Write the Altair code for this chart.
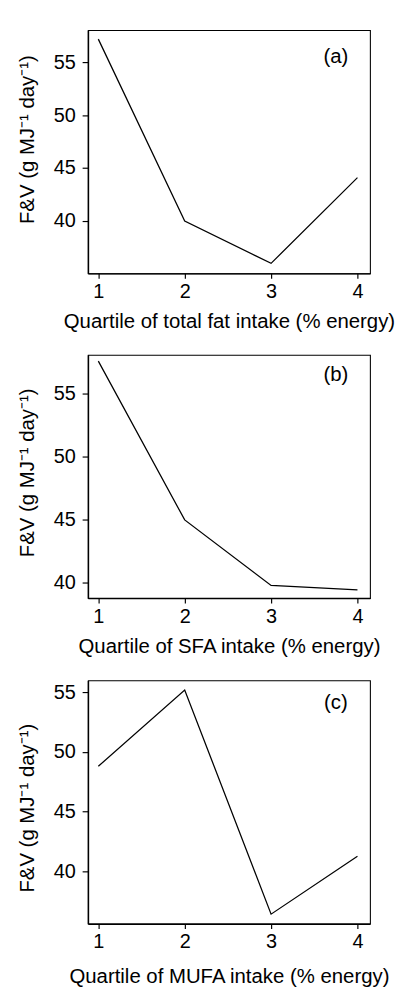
import altair as alt
import pandas as pd

quartiles = [1, 2, 3, 4]
fv_total_fat = [57.2, 40.0, 36.0, 44.1]
fv_sfa = [57.6, 45.0, 39.8, 39.45]
fv_mufa = [48.8, 55.2, 36.4, 41.25]

x_titles = [
    "Quartile of total fat intake (% energy)",
    "Quartile of SFA intake (% energy)",
    "Quartile of MUFA intake (% energy)",
]
panel_labels = ["(a)", "(b)", "(c)"]
y_title = "F&V (g MJ\u207b\u00b9 day\u207b\u00b9)"
y_ticks = [40, 45, 50, 55]

y_domains = [[35.05, 58.05], [38.8, 58.1], [35.6, 56.0]]
x_domain = [0.88, 4.145]
label_x = [3.75, 3.75, 3.75]
label_y = [55.53, 56.48, 54.12]

FONT = "Liberation Sans"

# per-panel layout: height, x-title padding, y-title position
heights = [251, 251, 251]
x_title_pad = [9, 10, 14]
y_title_pos = [112.5, 121.3, 131.3]


def panel(i, values):
    df = pd.DataFrame({"q": quartiles, "fv": values})
    xs = alt.X("q:Q", scale=alt.Scale(domain=x_domain, nice=False, zero=False),
               axis=alt.Axis(values=quartiles, title=x_titles[i], format="d",
                             titlePadding=x_title_pad[i]))
    ys = alt.Y("fv:Q", scale=alt.Scale(domain=y_domains[i], nice=False, zero=False),
               axis=alt.Axis(values=y_ticks, title=y_title, titleY=y_title_pos[i]))
    line = alt.Chart(df).mark_line(color="black", strokeWidth=1.3).encode(x=xs, y=ys)
    ldf = pd.DataFrame({"q": [label_x[i]], "fv": [label_y[i]], "t": [panel_labels[i]]})
    txt = alt.Chart(ldf).mark_text(font=FONT, fontSize=21, color="black",
                                   align="center", baseline="middle").encode(
        x=alt.X("q:Q"), y=alt.Y("fv:Q"), text="t:N")
    return alt.layer(line, txt).properties(width=291, height=heights[i])


charts = [panel(0, fv_total_fat), panel(1, fv_sfa), panel(2, fv_mufa)]

chart = alt.vconcat(*charts, spacing=22).properties(
    padding={"left": 8.5, "top": 6, "right": 5, "bottom": 0}
).configure_view(stroke="black", strokeWidth=1.1).configure_axis(
    grid=False,
    domainColor="black",
    domainWidth=1.5,
    tickColor="black",
    tickWidth=1.2,
    labelFont=FONT,
    labelFontSize=20.5,
    labelColor="black",
    titleFont=FONT,
    titleFontWeight="normal",
    titleColor="black",
).configure_axisX(tickSize=5, labelPadding=4, titleFontSize=21).configure_axisY(
    tickSize=6, labelPadding=7, titlePadding=16, titleFontSize=21
)

chart.save("out.html", embed_options={"renderer": "svg", "actions": False})
